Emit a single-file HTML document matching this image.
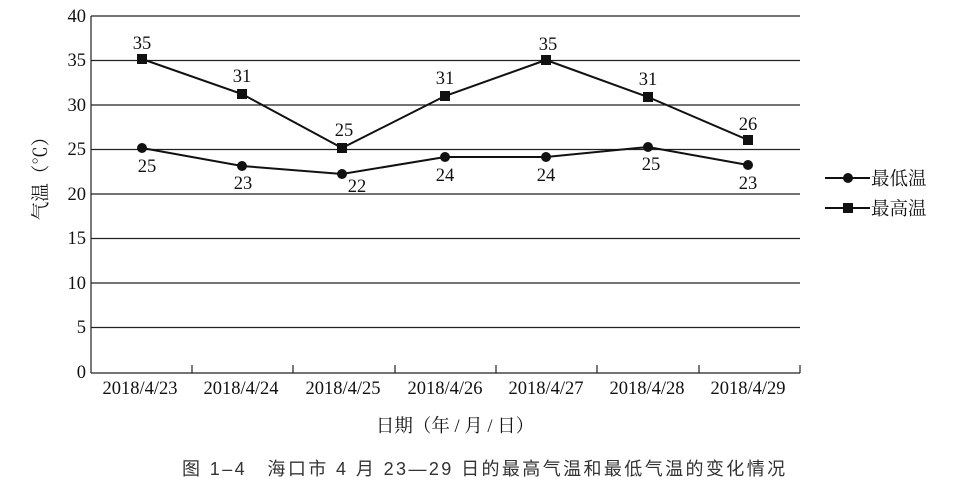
<!DOCTYPE html>
<html><head><meta charset="utf-8"><style>
html,body{margin:0;padding:0;background:#fff;}
svg{display:block;}
.s{font-family:"Liberation Serif","Noto Serif CJK SC",serif;font-size:18.5px;fill:#111;}
.c{font-family:"Liberation Sans","Noto Sans CJK SC",sans-serif;}
</style></head><body>
<svg width="967" height="491" viewBox="0 0 967 491" xmlns="http://www.w3.org/2000/svg">
<g stroke="#222" stroke-width="1.2">
<line x1="91" y1="16" x2="800" y2="16"/>
<line x1="91" y1="60.5" x2="800" y2="60.5"/>
<line x1="91" y1="105" x2="800" y2="105"/>
<line x1="91" y1="149.5" x2="800" y2="149.5"/>
<line x1="91" y1="194" x2="800" y2="194"/>
<line x1="91" y1="238.5" x2="800" y2="238.5"/>
<line x1="91" y1="283" x2="800" y2="283"/>
<line x1="91" y1="327.5" x2="800" y2="327.5"/>
<line x1="91" y1="373" x2="800" y2="373"/>
<line x1="91" y1="16" x2="91" y2="373"/>
<line x1="192" y1="365" x2="192" y2="373"/>
<line x1="293" y1="365" x2="293" y2="373"/>
<line x1="395" y1="365" x2="395" y2="373"/>
<line x1="496" y1="365" x2="496" y2="373"/>
<line x1="597" y1="365" x2="597" y2="373"/>
<line x1="699" y1="365" x2="699" y2="373"/>
<line x1="800" y1="365" x2="800" y2="373"/>
</g>
<g class="s" text-anchor="end">
<text x="86" y="22">40</text><text x="86" y="66">35</text><text x="86" y="111">30</text>
<text x="86" y="155">25</text><text x="86" y="200">20</text><text x="86" y="244">15</text>
<text x="86" y="289">10</text><text x="86" y="333">5</text><text x="86" y="378">0</text>
</g>
<g class="s" text-anchor="middle">
<text x="140" y="394">2018/4/23</text><text x="241" y="394">2018/4/24</text>
<text x="343" y="394">2018/4/25</text><text x="445" y="394">2018/4/26</text>
<text x="546" y="394">2018/4/27</text><text x="647" y="394">2018/4/28</text>
<text x="748" y="394">2018/4/29</text>
</g>
<text class="s" x="0" y="0" transform="translate(47,174) rotate(-90)" text-anchor="middle" font-size="18">气温（℃）</text>
<text class="s" x="455" y="432" text-anchor="middle" font-size="18">日期（年 / 月 / 日）</text>
<text class="c" x="182" y="475" font-size="18" letter-spacing="2.4" fill="#333">图 1–4　海口市 4 月 23—29 日的最高气温和最低气温的变化情况</text>
<g fill="none" stroke="#111" stroke-width="2">
<polyline points="142,59 242,94 342,148 445,96 546,60 648,97 748,140"/>
<polyline points="142,148 242,166 342,174 445,157 546,157 648,147 748,165"/>
</g>
<g fill="#111">
<rect x="137" y="54" width="10" height="10"/><rect x="237" y="89" width="10" height="10"/>
<rect x="337" y="143" width="10" height="10"/><rect x="440" y="91" width="10" height="10"/>
<rect x="541" y="55" width="10" height="10"/><rect x="643" y="92" width="10" height="10"/>
<rect x="743" y="135" width="10" height="10"/>
<circle cx="142" cy="148" r="5"/><circle cx="242" cy="166" r="5"/><circle cx="342" cy="174" r="5"/>
<circle cx="445" cy="157" r="5"/><circle cx="546" cy="157" r="5"/><circle cx="648" cy="147" r="5"/>
<circle cx="748" cy="165" r="5"/>
</g>
<g class="s" text-anchor="middle">
<text x="142" y="49">35</text><text x="242" y="82">31</text><text x="344" y="136">25</text>
<text x="445" y="84">31</text><text x="548" y="50">35</text><text x="648" y="85">31</text><text x="748" y="130">26</text>
<text x="147" y="172">25</text><text x="243" y="189">23</text><text x="357" y="192">22</text>
<text x="445" y="181">24</text><text x="546" y="181">24</text><text x="651" y="170">25</text><text x="748" y="189">23</text>
</g>
<g stroke="#111" stroke-width="2"><line x1="825" y1="178" x2="870" y2="178"/><line x1="825" y1="208" x2="870" y2="208"/></g>
<circle cx="848" cy="178" r="5" fill="#111"/>
<rect x="843" y="203" width="10" height="10" fill="#111"/>
<text class="s" x="871" y="185" font-size="19">最低温</text>
<text class="s" x="871" y="215" font-size="19">最高温</text>
</svg>
</body></html>
